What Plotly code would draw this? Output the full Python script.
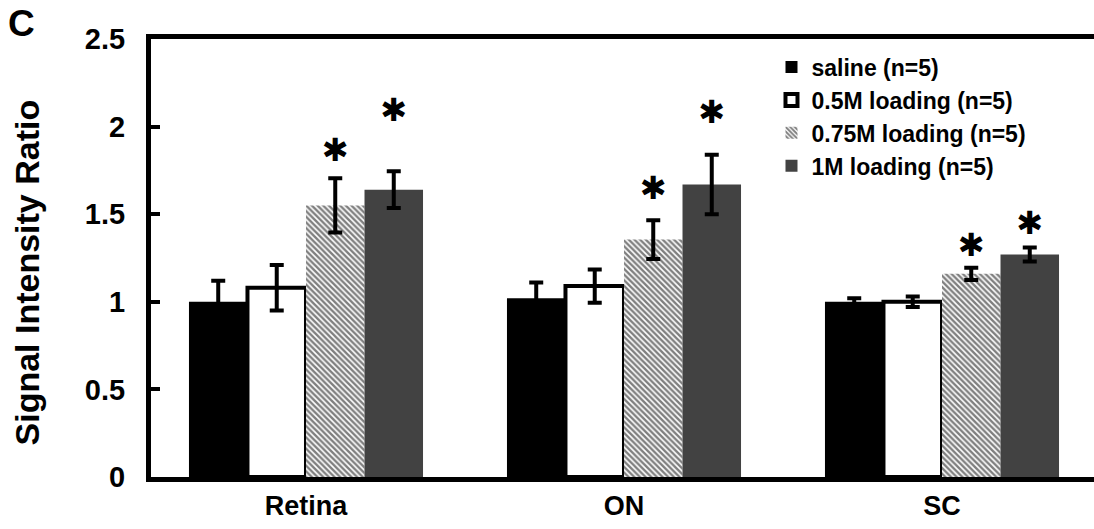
import plotly.graph_objects as go

# Regions measured
categories = ["Retina", "ON", "SC"]

saline = [1.00, 1.02, 1.00]
saline_err = [0.12, 0.09, 0.02]

load_05 = [1.08, 1.09, 1.00]
load_05_err = [0.13, 0.095, 0.03]

load_075 = [1.55, 1.355, 1.16]
load_075_err = [0.155, 0.11, 0.035]

load_1 = [1.64, 1.67, 1.27]
load_1_err = [0.105, 0.17, 0.04]

# Significance markers: (category, group offset index, height)
sig_cats = ["Retina", "Retina", "ON", "ON", "SC", "SC"]
sig_group = [2, 3, 2, 3, 2, 3]
sig_y = [1.85, 2.075, 1.63, 2.065, 1.305, 1.43]

y_ticks = [0, 0.5, 1, 1.5, 2, 2.5]
y_tick_text = ["0", "0.5", "1", "1.5", "2", "2.5"]

FONT = "Liberation Sans, Arial, sans-serif"
ERR = dict(type="data", visible=True, color="black", thickness=4, width=7)

fig = go.Figure()
fig.add_trace(go.Bar(
    name="<b>saline (n=5)</b>", x=categories, y=saline,
    error_y=dict(array=saline_err, **ERR),
    marker=dict(color="black", line=dict(width=0)),
))
fig.add_trace(go.Bar(
    name="<b>0.5M loading (n=5)</b>", x=categories, y=load_05,
    error_y=dict(array=load_05_err, **ERR),
    marker=dict(color="white", line=dict(color="black", width=4)),
))
fig.add_trace(go.Bar(
    name="<b>0.75M loading (n=5)</b>", x=categories, y=load_075,
    error_y=dict(array=load_075_err, **ERR),
    marker=dict(color="white", line=dict(width=0),
                pattern=dict(shape="\\", fgcolor="black", bgcolor="white",
                             size=4, solidity=0.6)),
))
fig.add_trace(go.Bar(
    name="<b>1M loading (n=5)</b>", x=categories, y=load_1,
    error_y=dict(array=load_1_err, **ERR),
    marker=dict(color="#424242", line=dict(width=0)),
))

# Asterisks above the significantly different groups
n_groups = 4
bargap = 0.264
bar_w = (1 - bargap) / n_groups
star_x = [categories.index(c) - (1 - bargap) / 2 + bar_w * (g + 0.5)
          for c, g in zip(sig_cats, sig_group)]
fig.add_trace(go.Scatter(
    x=star_x, y=sig_y, mode="text", text=["<b>✱</b>"] * len(sig_y),
    textfont=dict(family="DejaVu Sans", size=32, color="black"),
    showlegend=False, hoverinfo="skip", xaxis="x2",
))

fig.update_layout(
    width=1094, height=529,
    margin=dict(l=151, r=0, t=39, b=52),
    paper_bgcolor="white", plot_bgcolor="white",
    barmode="group", bargap=bargap, bargroupgap=0,
    font=dict(family=FONT, color="black"),
    showlegend=True,
    legend=dict(
        x=0.658, y=0.985, xanchor="left", yanchor="top",
        bgcolor="white", borderwidth=0,
        font=dict(family=FONT, size=23, color="black"),
        tracegroupgap=0,
    ),
    xaxis=dict(
        range=[-0.4874, 2.478], showgrid=False, zeroline=False,
        showline=True, linecolor="black", linewidth=5, mirror=True,
        ticks="", tickfont=dict(family=FONT, size=27),
        ticklabelstandoff=1,
        tickvals=categories, ticktext=["<b>%s</b>" % c for c in categories],
    ),
    xaxis2=dict(
        range=[-0.4874, 2.478], overlaying="x", visible=False,
    ),
    yaxis=dict(
        range=[0, 2.5], showgrid=False, zeroline=False,
        showline=True, linecolor="black", linewidth=5,
        ticks="inside", ticklen=9, tickwidth=4, tickcolor="black",
        tickvals=y_ticks, ticktext=["<b>%s</b>" % t for t in y_tick_text],
        tickfont=dict(family=FONT, size=29),
        ticklabelstandoff=15,
    ),
    annotations=[
        dict(text="<b>Signal Intensity Ratio</b>", textangle=-90,
             xref="paper", yref="paper", x=-0.131, y=0.468,
             xanchor="center", yanchor="middle", showarrow=False,
             font=dict(family=FONT, size=34)),
        dict(text="<b>C</b>", xref="paper", yref="paper", x=-0.137, y=1.035,
             xanchor="center", yanchor="middle", showarrow=False,
             font=dict(family=FONT, size=37)),
    ],
)

fig.write_html("out.html")
